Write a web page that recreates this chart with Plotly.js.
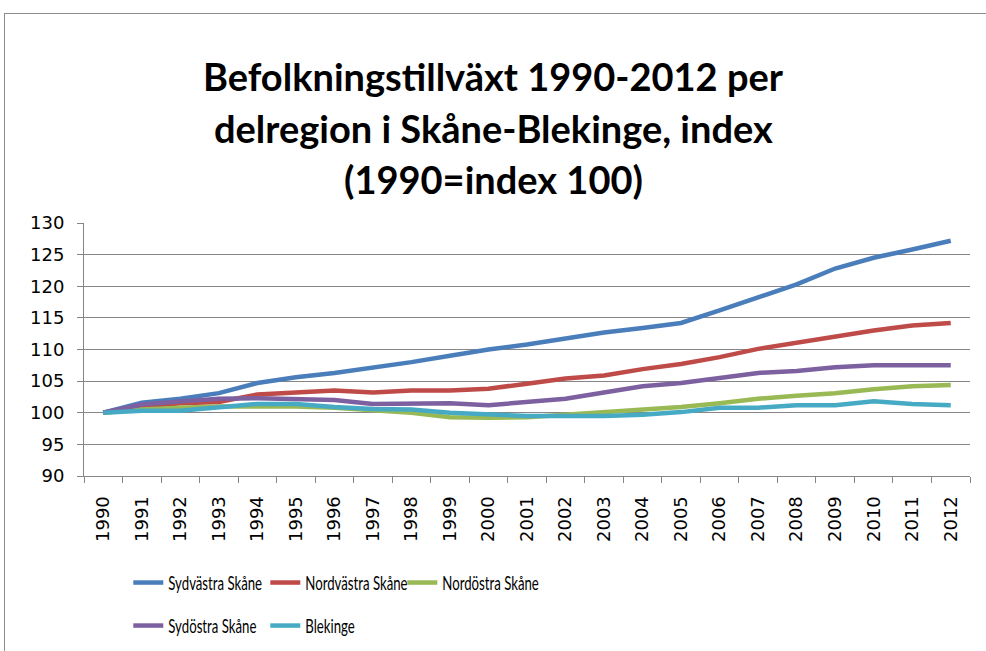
<!DOCTYPE html>
<html>
<head>
<meta charset="utf-8">
<script src="https://cdn.plot.ly/plotly-3.0.1.min.js"></script>
<style>
  body { margin: 0; overflow: hidden; background: #fff; }
  #chart { width: 986px; height: 651px; }
  #frame { position: absolute; left: 4px; top: 13px; width: 1000px; height: 700px;
           border: 1px solid #8c8c8c; pointer-events: none; }
  #chart .scrollbox { clip-path: none !important; }
</style>
</head>
<body>
<div id="chart"></div>
<div id="frame"></div>
<script>
var years = ['1990', '1991', '1992', '1993', '1994', '1995', '1996', '1997', '1998', '1999', '2000',
             '2001', '2002', '2003', '2004', '2005', '2006', '2007', '2008', '2009', '2010', '2011', '2012'];

var sydvastra  = [100, 101.6, 102.2, 103.1, 104.7, 105.6, 106.3, 107.1, 108.0, 109.0, 110.0,
                  110.8, 111.8, 112.7, 113.4, 114.2, 116.2, 118.2, 120.3, 122.8, 124.5, 125.8, 127.2];
var nordvastra = [100, 101.0, 101.5, 101.7, 102.9, 103.2, 103.5, 103.2, 103.5, 103.5, 103.8,
                  104.6, 105.4, 105.9, 106.9, 107.7, 108.8, 110.1, 111.1, 112.1, 113.0, 113.8, 114.2];
var nordostra  = [100, 100.5, 100.8, 101.0, 101.0, 101.0, 100.8, 100.4, 100.0, 99.3, 99.2,
                  99.3, 99.7, 100.1, 100.6, 100.9, 101.5, 102.2, 102.7, 103.1, 103.7, 104.2, 104.4];
var sydostra   = [100, 101.3, 101.8, 102.2, 102.3, 102.1, 102.0, 101.4, 101.4, 101.5, 101.2,
                  101.7, 102.2, 103.2, 104.2, 104.7, 105.5, 106.3, 106.6, 107.2, 107.5, 107.5, 107.5];
var blekinge   = [100, 100.3, 100.3, 100.9, 101.4, 101.4, 100.9, 100.6, 100.5, 100.0, 99.7,
                  99.5, 99.5, 99.5, 99.7, 100.1, 100.8, 100.8, 101.2, 101.2, 101.8, 101.4, 101.2];

var names  = ['Sydvästra Skåne', 'Nordvästra Skåne', 'Nordöstra Skåne', 'Sydöstra Skåne', 'Blekinge'];
var series = [sydvastra, nordvastra, nordostra, sydostra, blekinge];
var colors = ['#4a7ebb', '#be4b48', '#98b954', '#7d60a0', '#46aac5'];
var legends = ['legend', 'legend', 'legend', 'legend2', 'legend2'];

var data = [];
for (var i = 0; i < series.length; i++) {
    data.push({
        type: 'scatter', mode: 'lines', x: years, y: series[i], name: names[i],
        legend: legends[i],
        line: {color: colors[i], width: 4.5, shape: 'linear'}
    });
}

var tickFont = {family: "'DejaVu Sans', Verdana, sans-serif", size: 18, color: '#000'};
var legendFont = {family: 'Lato, sans-serif', size: 20, color: '#000'};
var titleFont = {family: 'Lato, sans-serif', size: 38, color: '#000', weight: 'bold'};

var layout = {
    width: 986, height: 651,
    margin: {l: 84, r: 16, t: 223, b: 175, autoexpand: false},
    paper_bgcolor: 'white',
    plot_bgcolor: 'white',
    showlegend: true,
    xaxis: {
        type: 'category',
        range: [-0.5, 22.5],
        tickangle: -90,
        tickfont: tickFont,
        ticks: 'outside', ticklen: 6, tickcolor: '#868686',
        tickson: 'boundaries',
        ticklabelstandoff: 12,
        showgrid: false,
        showline: true, linecolor: '#868686', linewidth: 1,
        zeroline: false
    },
    yaxis: {
        range: [90, 130],
        dtick: 5,
        tickfont: tickFont,
        ticks: 'outside', ticklen: 6, tickcolor: '#868686',
        ticklabelstandoff: 9,
        showgrid: true, gridcolor: '#868686', gridwidth: 1,
        showline: true, linecolor: '#868686', linewidth: 1,
        zeroline: false
    },
    legend: {
        orientation: 'h', x: 0.05, xanchor: 'left', y: -0.344, yanchor: 'top',
        font: legendFont, entrywidth: 92, entrywidthmode: 'pixels',
        tracegroupgap: 0, itemwidth: 30
    },
    legend2: {
        orientation: 'h', x: 0.05, xanchor: 'left', y: -0.514, yanchor: 'top',
        font: legendFont, entrywidth: 92, entrywidthmode: 'pixels',
        tracegroupgap: 0, itemwidth: 30
    },
    annotations: [
        {xref: 'paper', yref: 'paper', x: 0.462, y: 1.0 + (223 - 76) / 253, xanchor: 'center', yanchor: 'middle',
         text: 'Befolkningstillväxt 1990-2012 per', showarrow: false, font: titleFont},
        {xref: 'paper', yref: 'paper', x: 0.462, y: 1.0 + (223 - 128) / 253, xanchor: 'center', yanchor: 'middle',
         text: 'delregion i Skåne-Blekinge, index', showarrow: false, font: titleFont},
        {xref: 'paper', yref: 'paper', x: 0.462, y: 1.0 + (223 - 179) / 253, xanchor: 'center', yanchor: 'middle',
         text: '(1990=index 100)', showarrow: false, font: titleFont}
    ]
};

function squeezeLegend(gd) {
    // the legend labels in the original are set in a narrow face
    gd.querySelectorAll('.infolayer text').forEach(function (t) {
        if (names.indexOf(t.textContent) < 0 || t.getAttribute('textLength')) return;
        var w = t.getComputedTextLength();
        t.setAttribute('lengthAdjust', 'spacingAndGlyphs');
        t.setAttribute('textLength', (w * 0.66).toFixed(1));
    });
}

Plotly.newPlot('chart', data, layout, {displayModeBar: false, staticPlot: true}).then(function (gd) {
    squeezeLegend(gd);
    gd.on('plotly_afterplot', function () { squeezeLegend(gd); });
    setTimeout(function () { squeezeLegend(gd); }, 50);
});
</script>
</body>
</html>
